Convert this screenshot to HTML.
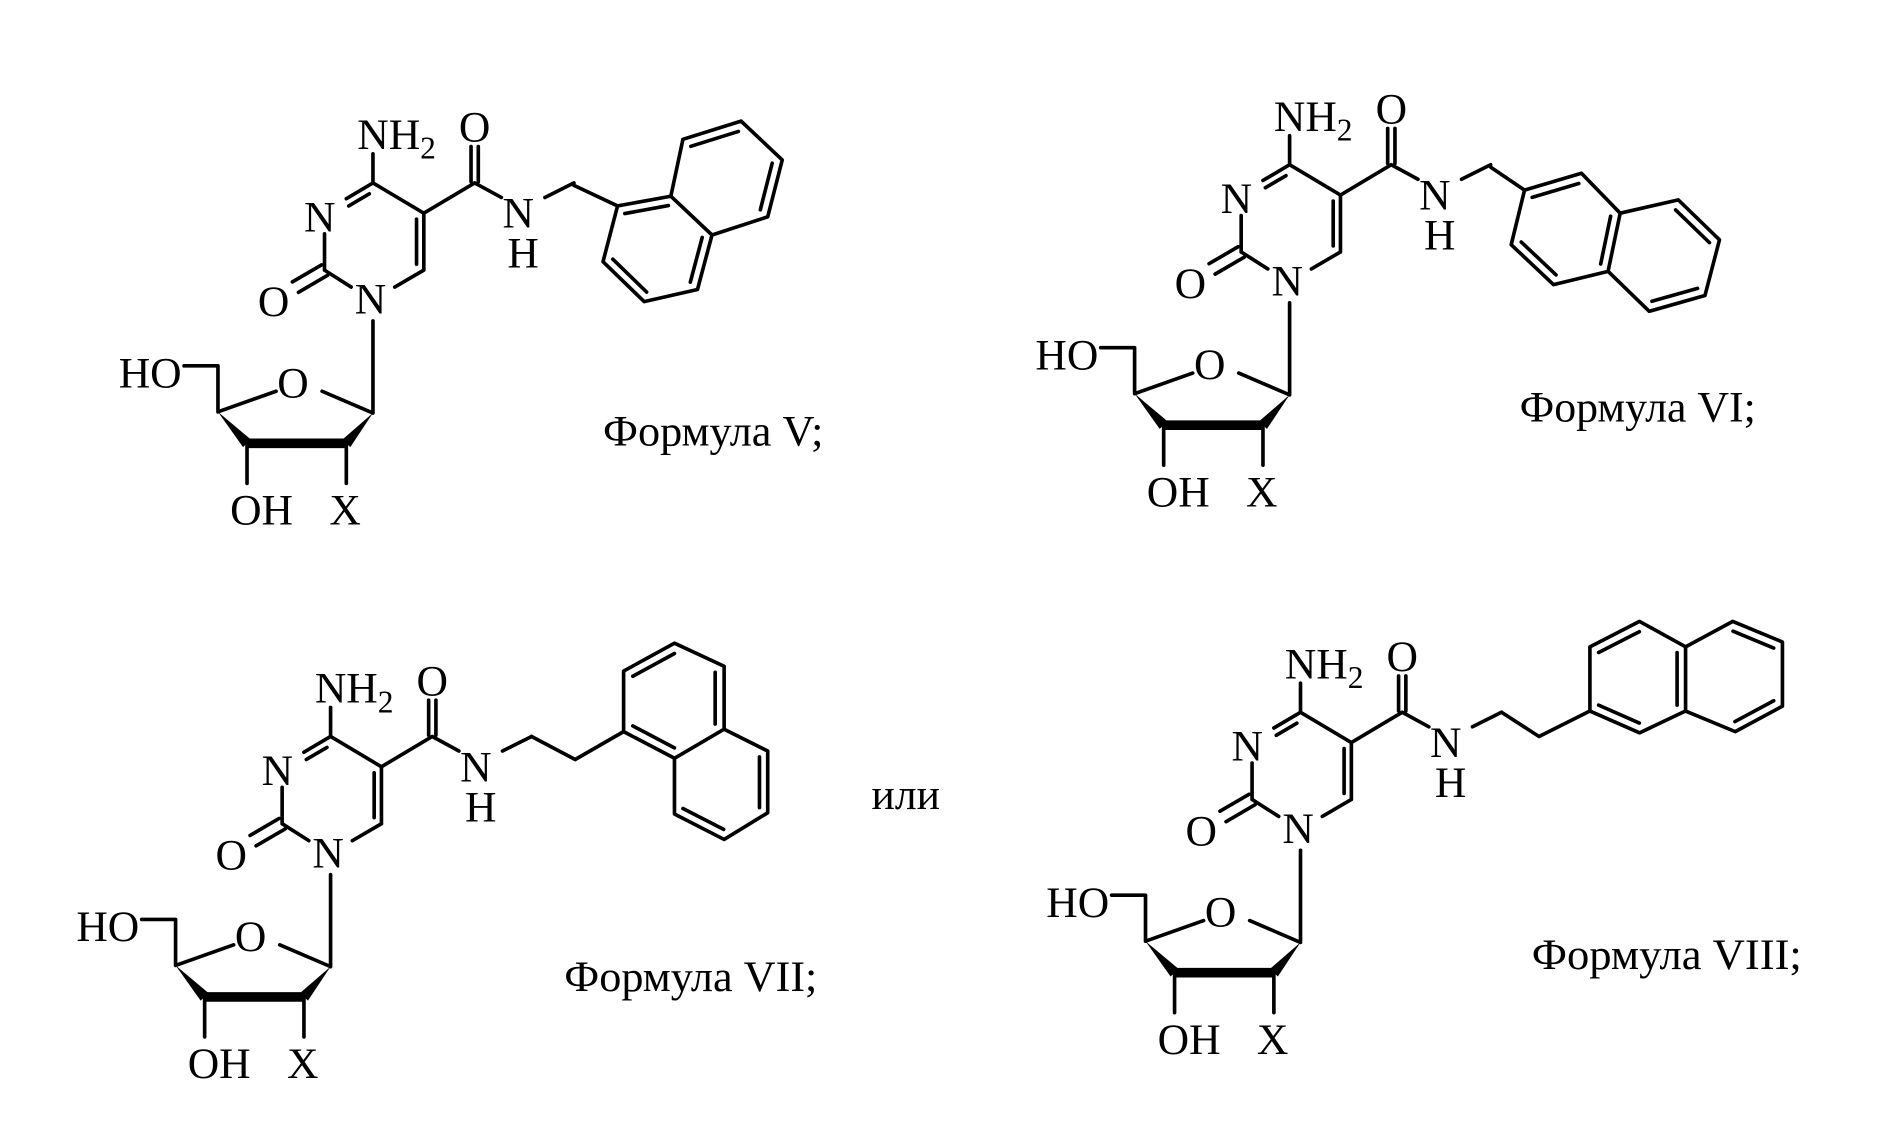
<!DOCTYPE html>
<html><head><meta charset="utf-8"><style>html,body{margin:0;padding:0;background:#fff}svg{display:block}</style></head>
<body>
<svg width="1889" height="1135" viewBox="0 0 1560 937" preserveAspectRatio="none" xmlns="http://www.w3.org/2000/svg">
<rect width="1560" height="937" fill="#fff"/>
<g stroke="#000" stroke-width="3" fill="none" stroke-linecap="round" font-family="Liberation Serif, serif" font-size="36">

<!-- Core V -->
<g transform="translate(308,151)">
<path d="M0,0V-24 M0,0L-22,13 M-3,9L-20,19 M0,0L42,25 M42,25V72 M36,30V67 M42,72L18,86 M-18,86L-40,72 M-40,72V42 M-42.5,67.7L-66.5,81.7 M-37.5,76.3L-61.5,90.3 M42,25L84,0 M81,-1V-30 M87,-1V-30 M84,0L106,12 M142,12L166,0 M0,114V190 M0,190L-42,172 M-80,172L-128,189 M-128,189V151 M-128,151H-156 M-104,215V248 M-22,215V248"/>
<path d="M-104,215H-22" stroke-width="8" stroke-linecap="butt"/>
<polygon points="-128,189 -100.7,211.9 -107.3,218.1" fill="#000" stroke="none"/>
<polygon points="0,190 -18.7,218.1 -25.3,211.9" fill="#000" stroke="none"/>
<g stroke="none" fill="#000">
<text x="-13" y="-28">NH<tspan font-size="26" dy="8">2</tspan></text>
<text x="84" y="-34" text-anchor="middle">O</text>
<text x="-44" y="40" text-anchor="middle">N</text>
<text x="-2" y="108" text-anchor="middle">N</text>
<text x="-82" y="110" text-anchor="middle">O</text>
<text x="120" y="37" text-anchor="middle">N</text>
<text x="124" y="70" text-anchor="middle">H</text>
<text x="-66" y="177" text-anchor="middle">O</text>
<text x="-158" y="169" text-anchor="end">HO</text>
<text x="-92" y="282" text-anchor="middle">OH</text>
<text x="-23" y="282" text-anchor="middle">X</text>
</g>
</g>

<!-- Core VI -->
<g transform="translate(1065,136)">
<path d="M0,0V-24 M0,0L-22,13 M-3,9L-20,19 M0,0L42,25 M42,25V72 M36,30V67 M42,72L18,86 M-18,86L-40,72 M-40,72V42 M-42.5,67.7L-66.5,81.7 M-37.5,76.3L-61.5,90.3 M42,25L84,0 M81,-1V-30 M87,-1V-30 M84,0L106,12 M142,12L166,0 M0,114V190 M0,190L-42,172 M-80,172L-128,189 M-128,189V151 M-128,151H-156 M-104,215V248 M-22,215V248"/>
<path d="M-104,215H-22" stroke-width="8" stroke-linecap="butt"/>
<polygon points="-128,189 -100.7,211.9 -107.3,218.1" fill="#000" stroke="none"/>
<polygon points="0,190 -18.7,218.1 -25.3,211.9" fill="#000" stroke="none"/>
<g stroke="none" fill="#000">
<text x="-13" y="-28">NH<tspan font-size="26" dy="8">2</tspan></text>
<text x="84" y="-34" text-anchor="middle">O</text>
<text x="-44" y="40" text-anchor="middle">N</text>
<text x="-2" y="108" text-anchor="middle">N</text>
<text x="-82" y="110" text-anchor="middle">O</text>
<text x="120" y="37" text-anchor="middle">N</text>
<text x="124" y="70" text-anchor="middle">H</text>
<text x="-66" y="177" text-anchor="middle">O</text>
<text x="-158" y="169" text-anchor="end">HO</text>
<text x="-92" y="282" text-anchor="middle">OH</text>
<text x="-23" y="282" text-anchor="middle">X</text>
</g>
</g>

<!-- Core VII -->
<g transform="translate(273,608)">
<path d="M0,0V-24 M0,0L-22,13 M-3,9L-20,19 M0,0L42,25 M42,25V72 M36,30V67 M42,72L18,86 M-18,86L-40,72 M-40,72V42 M-42.5,67.7L-66.5,81.7 M-37.5,76.3L-61.5,90.3 M42,25L84,0 M81,-1V-30 M87,-1V-30 M84,0L106,12 M142,12L166,0 M0,114V190 M0,190L-42,172 M-80,172L-128,189 M-128,189V151 M-128,151H-156 M-104,215V248 M-22,215V248"/>
<path d="M-104,215H-22" stroke-width="8" stroke-linecap="butt"/>
<polygon points="-128,189 -100.7,211.9 -107.3,218.1" fill="#000" stroke="none"/>
<polygon points="0,190 -18.7,218.1 -25.3,211.9" fill="#000" stroke="none"/>
<g stroke="none" fill="#000">
<text x="-13" y="-28">NH<tspan font-size="26" dy="8">2</tspan></text>
<text x="84" y="-34" text-anchor="middle">O</text>
<text x="-44" y="40" text-anchor="middle">N</text>
<text x="-2" y="108" text-anchor="middle">N</text>
<text x="-82" y="110" text-anchor="middle">O</text>
<text x="120" y="37" text-anchor="middle">N</text>
<text x="124" y="70" text-anchor="middle">H</text>
<text x="-66" y="177" text-anchor="middle">O</text>
<text x="-158" y="169" text-anchor="end">HO</text>
<text x="-92" y="282" text-anchor="middle">OH</text>
<text x="-23" y="282" text-anchor="middle">X</text>
</g>
</g>

<!-- Core VIII -->
<g transform="translate(1074,588)">
<path d="M0,0V-24 M0,0L-22,13 M-3,9L-20,19 M0,0L42,25 M42,25V72 M36,30V67 M42,72L18,86 M-18,86L-40,72 M-40,72V42 M-42.5,67.7L-66.5,81.7 M-37.5,76.3L-61.5,90.3 M42,25L84,0 M81,-1V-30 M87,-1V-30 M84,0L106,12 M142,12L166,0 M0,114V190 M0,190L-42,172 M-80,172L-128,189 M-128,189V151 M-128,151H-156 M-104,215V248 M-22,215V248"/>
<path d="M-104,215H-22" stroke-width="8" stroke-linecap="butt"/>
<polygon points="-128,189 -100.7,211.9 -107.3,218.1" fill="#000" stroke="none"/>
<polygon points="0,190 -18.7,218.1 -25.3,211.9" fill="#000" stroke="none"/>
<g stroke="none" fill="#000">
<text x="-13" y="-28">NH<tspan font-size="26" dy="8">2</tspan></text>
<text x="84" y="-34" text-anchor="middle">O</text>
<text x="-44" y="40" text-anchor="middle">N</text>
<text x="-2" y="108" text-anchor="middle">N</text>
<text x="-82" y="110" text-anchor="middle">O</text>
<text x="120" y="37" text-anchor="middle">N</text>
<text x="124" y="70" text-anchor="middle">H</text>
<text x="-66" y="177" text-anchor="middle">O</text>
<text x="-158" y="169" text-anchor="end">HO</text>
<text x="-92" y="282" text-anchor="middle">OH</text>
<text x="-23" y="282" text-anchor="middle">X</text>
</g>
</g>

<!-- V naphthalen-1-ylmethyl -->
<path stroke-linejoin="round" d="M474,153L510,170 M510,170L498,216L532,249L576,239L588,194L554,162Z M554,162L564,115L612,100L646,132L634,179L588,194
M516,176.3L552,169.7 M506.1,214L534,241.1 M570.1,232.9L579.9,196 M570.5,120.8L609.8,108.5 M637.7,134.7L627.9,173.2"/>

<!-- VI naphthalen-2-ylmethyl -->
<path stroke-linejoin="round" d="M1231,138L1259,157 M1259,157L1306,143L1338,176L1328,224L1283,235L1248,202Z M1338,176L1386,165L1420,198L1408,244L1362,257L1328,224
M1265.3,162.9L1303.8,151.5 M1256.3,199.8L1285,226.9 M1330.1,178.5L1321.9,217.9 M1383.8,173.3L1411.7,200.3 M1401.9,238.1L1364.2,248.7"/>

<!-- VII 2-(naphthalen-1-yl)ethyl -->
<path stroke-linejoin="round" d="M439,608L475,627L515,604 M515,604L515,554L557,531L598,550L598,602L557,626Z M557,626L557,672L598,693L634,671L634,620L598,602
M522.6,558.3L557,539.5 M590.6,555L590.6,597.7 M557,617.4L522.6,599.3 M627.2,624.9L627.2,666.7 M597.6,684.7L564,667.5"/>

<!-- VIII 2-(naphthalen-2-yl)ethyl -->
<path stroke-linejoin="round" d="M1240,588L1271,608L1313,587 M1313,587L1313,534L1354,513L1392,534L1392,587L1354,605Z M1392,534L1431,513L1472,530L1472,583L1433,604L1392,587
M1320.2,582.1L1353.8,596.9 M1320.2,538.7L1353.8,521.5 M1385,538.7L1385,582.1 M1431.2,521.1L1464.8,535 M1464.8,578.5L1432.8,595.7"/>

<g stroke="none" fill="#000">
<text x="498" y="368" textLength="182" lengthAdjust="spacingAndGlyphs">Формула V;</text>
<text x="1255" y="348" textLength="195" lengthAdjust="spacingAndGlyphs">Формула VI;</text>
<text x="466" y="818" textLength="209" lengthAdjust="spacingAndGlyphs">Формула VII;</text>
<text x="1265" y="800" textLength="223" lengthAdjust="spacingAndGlyphs">Формула VIII;</text>
<text x="748" y="668" text-anchor="middle">или</text>
</g>
</g>
</svg>
</body></html>
